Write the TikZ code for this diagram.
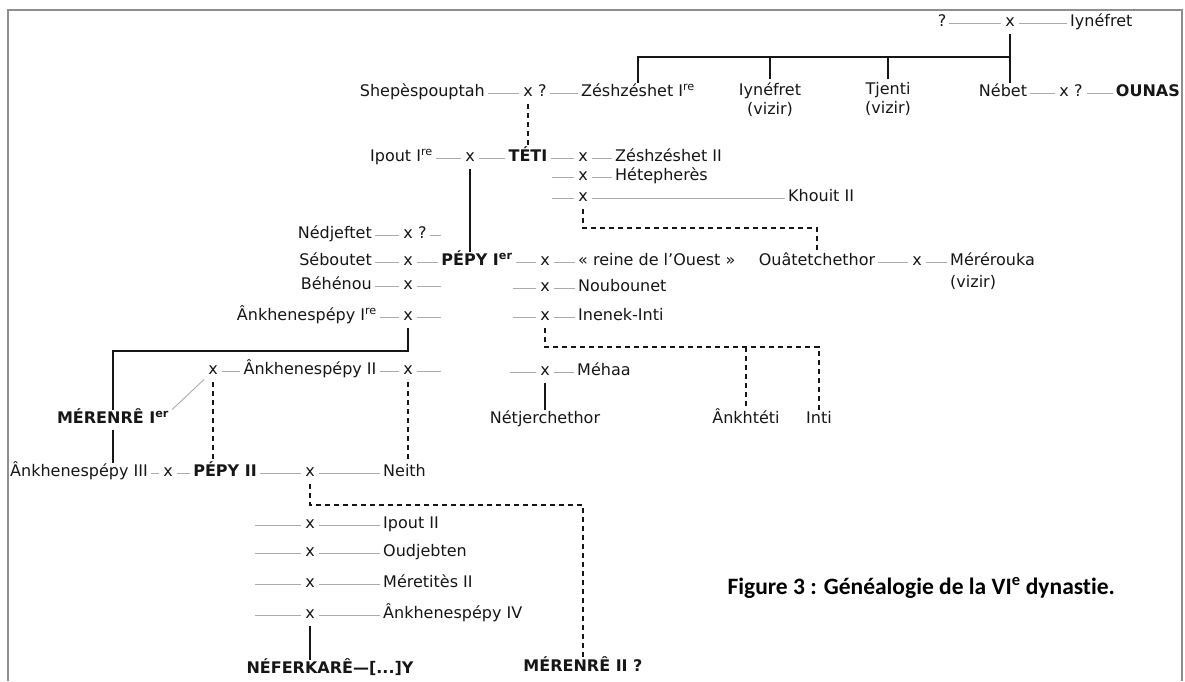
\documentclass[tikz,border=0pt]{standalone}
\usepackage{fontspec}
\setmainfont{DejaVu Sans}
\newfontfamily\capfont[Ligatures=NoCommon]{Carlito}
\usetikzlibrary{positioning}
\definecolor{encre}{HTML}{161616}
\definecolor{trait}{HTML}{ABABAB}
\definecolor{cadre}{HTML}{8E8E8E}
\tikzset{
  police/.style={inner sep=3pt, text=encre, font=\fontsize{16}{19}\selectfont},
  nom/.style={police, text height=11pt, text depth=3.5pt},
  roi/.style={nom, font=\fontsize{16}{19}\selectfont\bfseries},
  union/.style={nom, inner sep=4pt},
  mariage/.style={draw=trait, line width=0.9pt},
  filiation/.style={draw=encre, line width=2.3pt},
  douteux/.style={draw=encre, line width=2.3pt, dash pattern=on 5pt off 4pt},
}

\begin{document}
\begin{tikzpicture}[x=1pt, y=-1pt]
  \useasboundingbox (0,0) rectangle (1185,681);
  \draw[cadre, line width=2pt] (8,681) -- (8,10) -- (1182,10) -- (1182,681);

  \node[nom] (pere0) at (942,23) {?};
  \node[union] (u0) at (1010,23) {x};
  \node[nom, anchor=west] (iynef) at (1067,23) {Iynéfret};
  \draw[mariage] (pere0) -- (u0) -- (iynef);
  \coordinate (b0) at (1010,57);
  \node[nom] (zesh1) at (638,93) {Zéshzéshet I\textsuperscript{re}};
  \node[police, align=center, anchor=north] (iynv) at (770,79) {Iynéfret\\(vizir)};
  \node[police, align=center, anchor=north] (tjenti) at (888,79) {Tjenti\\(vizir)};
  \node[nom] (nebet) at (1003,93) {Nébet};
  \node[union] (u1) at (1071,93) {x ?};
  \node[roi, anchor=east] (ounas) at (1183,93) {OUNAS};
  \draw[filiation] (zesh1.north) |- (b0);
  \draw[filiation] (u0) -- (u0 |- nebet.north);
  \draw[filiation] (iynv.north) -- (iynv.north |- b0);
  \draw[filiation] (tjenti.north) -- (tjenti.north |- b0);
  \draw[mariage] (nebet) -- (u1) -- (ounas);

  \node[nom, anchor=east] (sheps) at (488,93) {Shepèspouptah};
  \node[union] (u2) at (528,93) {x};
  \node[nom, right=-2pt of u2] (q2) {?};
  \draw[mariage] (sheps) -- (u2);
  \draw[mariage] (q2) -- (zesh1);

  \node[nom, anchor=east] (ipout1) at (436,158) {Ipout I\textsuperscript{re}};
  \node[union] (u3) at (470,158) {x};
  \node[roi] (teti) at (528,158) {TÉTI};
  \draw[mariage] (ipout1) -- (u3) -- (teti);
  \draw[douteux] (u2) -- (teti);

  \node[union] (u4) at (583,158) {x};
  \node[nom, anchor=west] (zesh2) at (612,158) {Zéshzéshet II};
  \node[union] (u5) at (583,177) {x};
  \node[nom, anchor=west] (hetep) at (612,177) {Hétepherès};
  \node[union] (u6) at (583,198) {x};
  \node[nom, anchor=west] (khouit) at (785,198) {Khouit II};
  \coordinate (t5) at (552,177);
  \coordinate (t6) at (552,198);
  \draw[mariage] (teti) -- (u4) -- (zesh2);
  \draw[mariage] (t5) -- (u5) -- (hetep);
  \draw[mariage] (t6) -- (u6) -- (khouit);

  \node[nom] (ouat) at (817,262) {Ouâtetchethor};
  \node[union] (u7) at (917,262) {x};
  \node[nom, anchor=west] (merer) at (947,262) {Mérérouka};
  \node[police, anchor=north west] (merv) at (merer.south west) {(vizir)};
  \coordinate (d1) at (817,228);
  \draw[douteux] (u6) |- (d1) -- (ouat);
  \draw[mariage] (ouat) -- (u7) -- (merer);

  \node[nom, anchor=east] (nedj) at (375,235) {Nédjeftet};
  \node[union] (u8) at (408,235) {x};
  \node[nom, right=-2pt of u8] (q8) {?};
  \coordinate (p8) at (441,235);
  \draw[mariage] (nedj) -- (u8);
  \draw[mariage] (q8) -- (p8);
  \node[nom, anchor=east] (sebou) at (375,262) {Séboutet};
  \node[union] (u9) at (408,262) {x};
  \node[roi] (pepy1) at (477,262) {PÉPY I\textsuperscript{er}};
  \draw[mariage] (sebou) -- (u9) -- (pepy1);
  \draw[filiation] (u3) -- (u3 |- pepy1.north);
  \node[nom, anchor=east] (behen) at (375,286) {Béhénou};
  \node[union] (u10) at (408,286) {x};
  \coordinate (p10) at (441,286);
  \draw[mariage] (behen) -- (u10) -- (p10);
  \node[nom, anchor=east] (ankh1) at (380,317) {Ânkhenespépy I\textsuperscript{re}};
  \node[union] (u11) at (408,317) {x};
  \coordinate (p11) at (441,317);
  \draw[mariage] (ankh1) -- (u11) -- (p11);

  \node[union] (u12) at (545,262) {x};
  \node[nom, anchor=west] (reine) at (575,262) {« reine de l'Ouest »};
  \draw[mariage] (pepy1) -- (u12) -- (reine);
  \coordinate (p13) at (513,288);
  \node[union] (u13) at (545,288) {x};
  \node[nom, anchor=west] (noub) at (575,288) {Noubounet};
  \draw[mariage] (p13) -- (u13) -- (noub);
  \coordinate (p14) at (513,317);
  \node[union] (u14) at (545,317) {x};
  \node[nom, anchor=west] (inen) at (575,317) {Inenek-Inti};
  \draw[mariage] (p14) -- (u14) -- (inen);
  \coordinate (p15) at (510,372);
  \node[union] (u15) at (545,372) {x};
  \node[nom, anchor=west] (meha) at (574,372) {Méhaa};
  \draw[mariage] (p15) -- (u15) -- (meha);

  \node[nom] (netj) at (545,420) {Nétjerchethor};
  \node[nom] (ankht) at (746,420) {Ânkhtéti};
  \node[nom] (inti) at (819,420) {Inti};
  \coordinate (d2) at (819,347);
  \coordinate (d3) at (746,347);
  \draw[douteux] (u14) |- (d2) -- (inti);
  \draw[douteux] (d3) -- (ankht);
  \draw[filiation] (u15) -- (netj);

  \coordinate (d4) at (113,351);
  \node[roi] (meren1) at (113,420) {MÉRENRÊ I\textsuperscript{er}};
  \draw[filiation] (u11) |- (d4) -- (meren1);
  \node[union] (u16) at (213,371) {x};
  \node[nom] (ankh2) at (310,371) {Ânkhenespépy II};
  \node[union] (u17) at (408,371) {x};
  \coordinate (p17) at (441,371);
  \draw[mariage] (u16) -- (ankh2) -- (u17) -- (p17);
  \draw[mariage] (meren1.north east) -- (u16);

  \node[nom, anchor=west] (ankh3) at (7,473) {Ânkhenespépy III};
  \node[union] (u18) at (168,473) {x};
  \node[roi] (pepy2) at (225,473) {PÉPY II};
  \node[union] (u19) at (310,473) {x};
  \node[nom, anchor=west] (neith) at (380,473) {Neith};
  \draw[mariage] (ankh3) -- (u18) -- (pepy2) -- (u19) -- (neith);
  \draw[filiation] (meren1) -- (meren1 |- ankh3.north);
  \draw[douteux] (u16) -- (u16 |- pepy2.north);
  \draw[douteux] (u17) -- (u17 |- neith.north);

  \node[roi] (meren2) at (583,668) {MÉRENRÊ II ?};
  \coordinate (d5) at (583,505);
  \draw[douteux] (u19) |- (d5) -- (meren2);

  \coordinate (ga) at (255,525);
  \node[union] (va) at (310,525) {x};
  \node[nom, anchor=west] (ipout2) at (380,525) {Ipout II};
  \draw[mariage] (ga) -- (va) -- (ipout2);
  \coordinate (gb) at (255,553);
  \node[union] (vb) at (310,553) {x};
  \node[nom, anchor=west] (oudj) at (380,553) {Oudjebten};
  \draw[mariage] (gb) -- (vb) -- (oudj);
  \coordinate (gc) at (255,584);
  \node[union] (vc) at (310,584) {x};
  \node[nom, anchor=west] (meret) at (380,584) {Méretitès II};
  \draw[mariage] (gc) -- (vc) -- (meret);
  \coordinate (gd) at (255,615);
  \node[union] (vd) at (310,615) {x};
  \node[nom, anchor=west] (ankh4) at (380,615) {Ânkhenespépy IV};
  \draw[mariage] (gd) -- (vd) -- (ankh4);
  \node[roi] (nefer) at (330,670) {NÉFERKARÊ—[...]Y};
  \draw[filiation] (vd) -- (vd |- nefer.north);

  \node[anchor=west, text=black, font=\capfont\bfseries\fontsize{23.5}{27}\selectfont] (legende) at (724,588)
    {Figure 3 : Généalogie de la VI\textsuperscript{e} dynastie.};
\end{tikzpicture}
\end{document}
